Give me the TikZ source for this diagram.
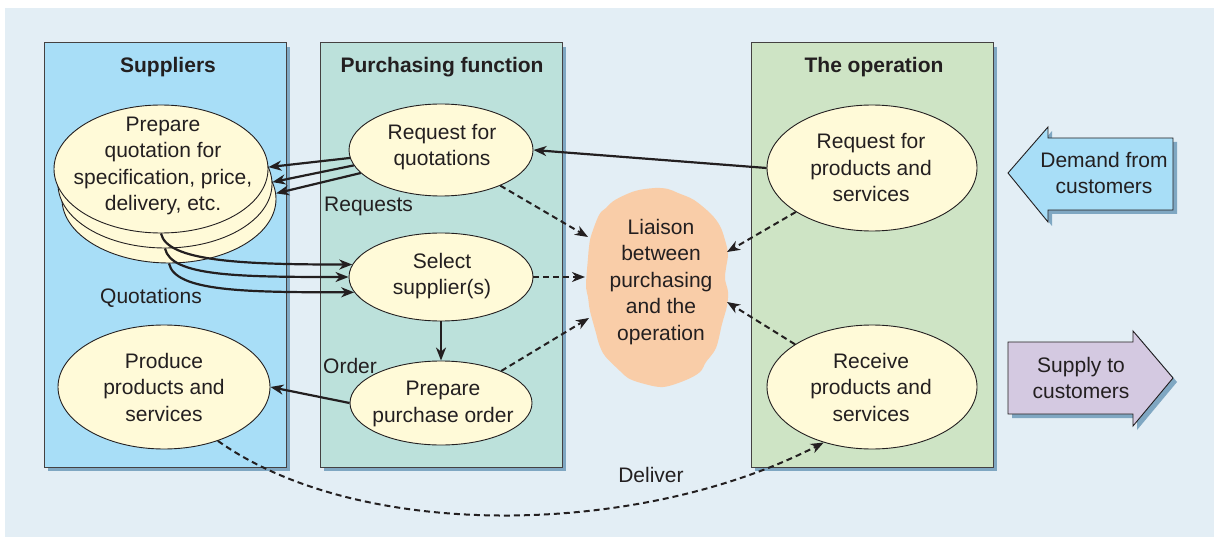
\documentclass[tikz,border=0pt]{standalone}
\usepackage{fontspec}
\setmainfont{Liberation Sans}
\usetikzlibrary{shapes.geometric,arrows.meta,shadows}
\definecolor{bgc}{HTML}{E3EEF5}
\definecolor{supc}{HTML}{A8DEF7}
\definecolor{purc}{HTML}{BCE1DB}
\definecolor{opc}{HTML}{CEE4C5}
\definecolor{elc}{HTML}{FFFAD8}
\definecolor{cloudc}{HTML}{F9CDA8}
\definecolor{lavc}{HTML}{D4C9E1}
\definecolor{shc}{HTML}{7FA7C2}
\definecolor{inkc}{HTML}{231F20}
\newcommand{\fs}{\fontsize{21}{26.5}\selectfont}
\tikzset{
  panel/.style={draw=inkc!85, line width=1pt, minimum width=242pt, minimum height=424pt, inner sep=0pt,
    general shadow={fill=shc, shadow xshift=4pt, shadow yshift=-4pt}},
  ttl/.style={font=\fs\bfseries, text=inkc, inner sep=0pt},
  proc/.style={ellipse, draw=inkc, line width=0.9pt, fill=elc, inner sep=0pt},
  ptxt/.style={font=\fs, text=inkc, align=center, inner sep=0pt},
  lbl/.style={font=\fs, text=inkc, inner sep=0pt},
  solidarr/.style={draw=inkc, line width=2.2pt, -{Stealth[length=13pt,width=10pt,inset=4pt]}},
  dasharr/.style={solidarr, line width=2pt, dash pattern=on 6pt off 4pt},
}
\begin{document}
\begin{tikzpicture}[x=1pt,y=-1pt]
\useasboundingbox (0,0) rectangle (1214,537);
\fill[bgc] (5,8) rectangle (1214,537);

% panels
\node[panel, fill=supc] (psup) at (165,255) {};
\node[panel, fill=purc] (ppur) at (441,255) {};
\node[panel, fill=opc] (pop) at (872,255) {};
\node[ttl] (tsup) at (168,67) {Suppliers};
\node[ttl] (tpur) at (442,67) {Purchasing function};
\node[ttl] (top) at (874,67) {The operation};

% supplier quotation stack
\node[proc, minimum width=214pt, minimum height=128pt] (sq3) at (169,199) {};
\node[proc, minimum width=214pt, minimum height=128pt] (sq2) at (165,184) {};
\node[proc, minimum width=214pt, minimum height=128pt] (sq) at (161,169) {};
\node[ptxt] (sqt) at (163,166) {Prepare\\quotation for\\specification, price,\\delivery, etc.};

\node[proc, minimum width=212pt, minimum height=124pt] (prod) at (164,387) {};
\node[ptxt] (prodt) at (164,387) {Produce\\products and\\services};

% purchasing
\node[proc, minimum width=184pt, minimum height=92pt] (rfq) at (441,150) {};
\node[ptxt] (rfqt) at (442,147) {Request for\\quotations};
\node[proc, minimum width=184pt, minimum height=88pt] (sel) at (441,277) {};
\node[ptxt] (selt) at (442,276) {Select\\supplier(s)};
\node[proc, minimum width=182pt, minimum height=84pt] (ppo) at (441,403) {};
\node[ptxt] (ppot) at (443,404) {Prepare\\purchase order};

% operation
\node[proc, minimum width=210pt, minimum height=126pt] (rps) at (872,168) {};
\node[ptxt] (rpst) at (871,168) {Request for\\products and\\services};
\node[proc, minimum width=210pt, minimum height=124pt] (rcv) at (872,387) {};
\node[ptxt] (rcvt) at (871,387) {Receive\\products and\\services};

% cloud
\fill[cloudc] plot[smooth cycle, tension=0.55] coordinates {
 (655,188) (668,189) (678,193) (694,200) (711,214) (720,226) (725,240) (728,254) (726,268) (725,279) (728,292)
 (727,306) (722,324) (716,348) (706,362) (700,372) (686,380) (663,387) (641,383) (628,378) (620,371) (605,356)
 (599,344) (596,333) (590,311) (588,297) (586,285) (588,258) (589,247) (591,236) (599,215) (606,208) (615,200) (635,191)};
\node[ptxt] (liaison) at (661,282) {Liaison\\between\\purchasing\\and the\\operation};
\coordinate (cla) at (588,237);
\coordinate (clb) at (585,277);
\coordinate (clc) at (589,318);
\coordinate (cld) at (727,252);
\coordinate (cle) at (727,302);

% block arrows
\fill[shc] (1012,177) -- (1052,131) -- (1052,142) -- (1177,142) -- (1177,214) -- (1052,214) -- (1052,226) -- cycle;
\filldraw[fill=supc, draw=inkc, line width=0.9pt] (1008,173) -- (1048,127) -- (1048,138) -- (1173,138) -- (1173,210) -- (1048,210) -- (1048,222) -- cycle;
\node[ptxt] (dem) at (1104,173) {Demand from\\customers};
\fill[shc] (1012,346) -- (1137,346) -- (1137,335) -- (1177,382) -- (1137,430) -- (1137,418) -- (1012,418) -- cycle;
\filldraw[fill=lavc, draw=inkc, line width=0.9pt] (1008,342) -- (1133,342) -- (1133,331) -- (1173,378) -- (1133,426) -- (1133,414) -- (1008,414) -- cycle;
\node[ptxt] (sup) at (1081,378) {Supply to\\customers};

% labels
\node[lbl, anchor=west] (lreq) at (324,206) {Requests};
\node[lbl] (lquo) at (151,298) {Quotations};
\node[lbl, anchor=west] (lord) at (323,366) {Order};
\node[lbl] (ldel) at (651,475) {Deliver};

% connectors
\draw[solidarr] (rfq.185) -- (sq.1);
\draw[solidarr] (rfq.190) -- (sq2.1);
\draw[solidarr] (rfq.196) -- (sq3.3);
\draw[solidarr] (sq.south) .. controls +(6,28) and +(-110,0) .. (sel.172);
\draw[solidarr] (sq2.south) .. controls +(6,28) and +(-110,0) .. (sel.180);
\draw[solidarr] (sq3.south) .. controls +(6,28) and +(-110,0) .. (sel.190);
\draw[solidarr] (rps.west) -- (rfq.east);
\draw[solidarr] (sel.south) -- (ppo.north);
\draw[solidarr] (ppo.west) -- (prod.east);
\draw[dasharr] (rfq.-31) -- (cla);
\draw[dasharr] (sel.east) -- (clb);
\draw[dasharr] (ppo.28) -- (clc);
\draw[dasharr] (rps.210) -- (cld);
\draw[dasharr] (rcv.151) -- (cle);
\draw[dasharr] (prod.-45) .. controls (360,542) and (640,537) .. (rcv.229);
\end{tikzpicture}
\end{document}
